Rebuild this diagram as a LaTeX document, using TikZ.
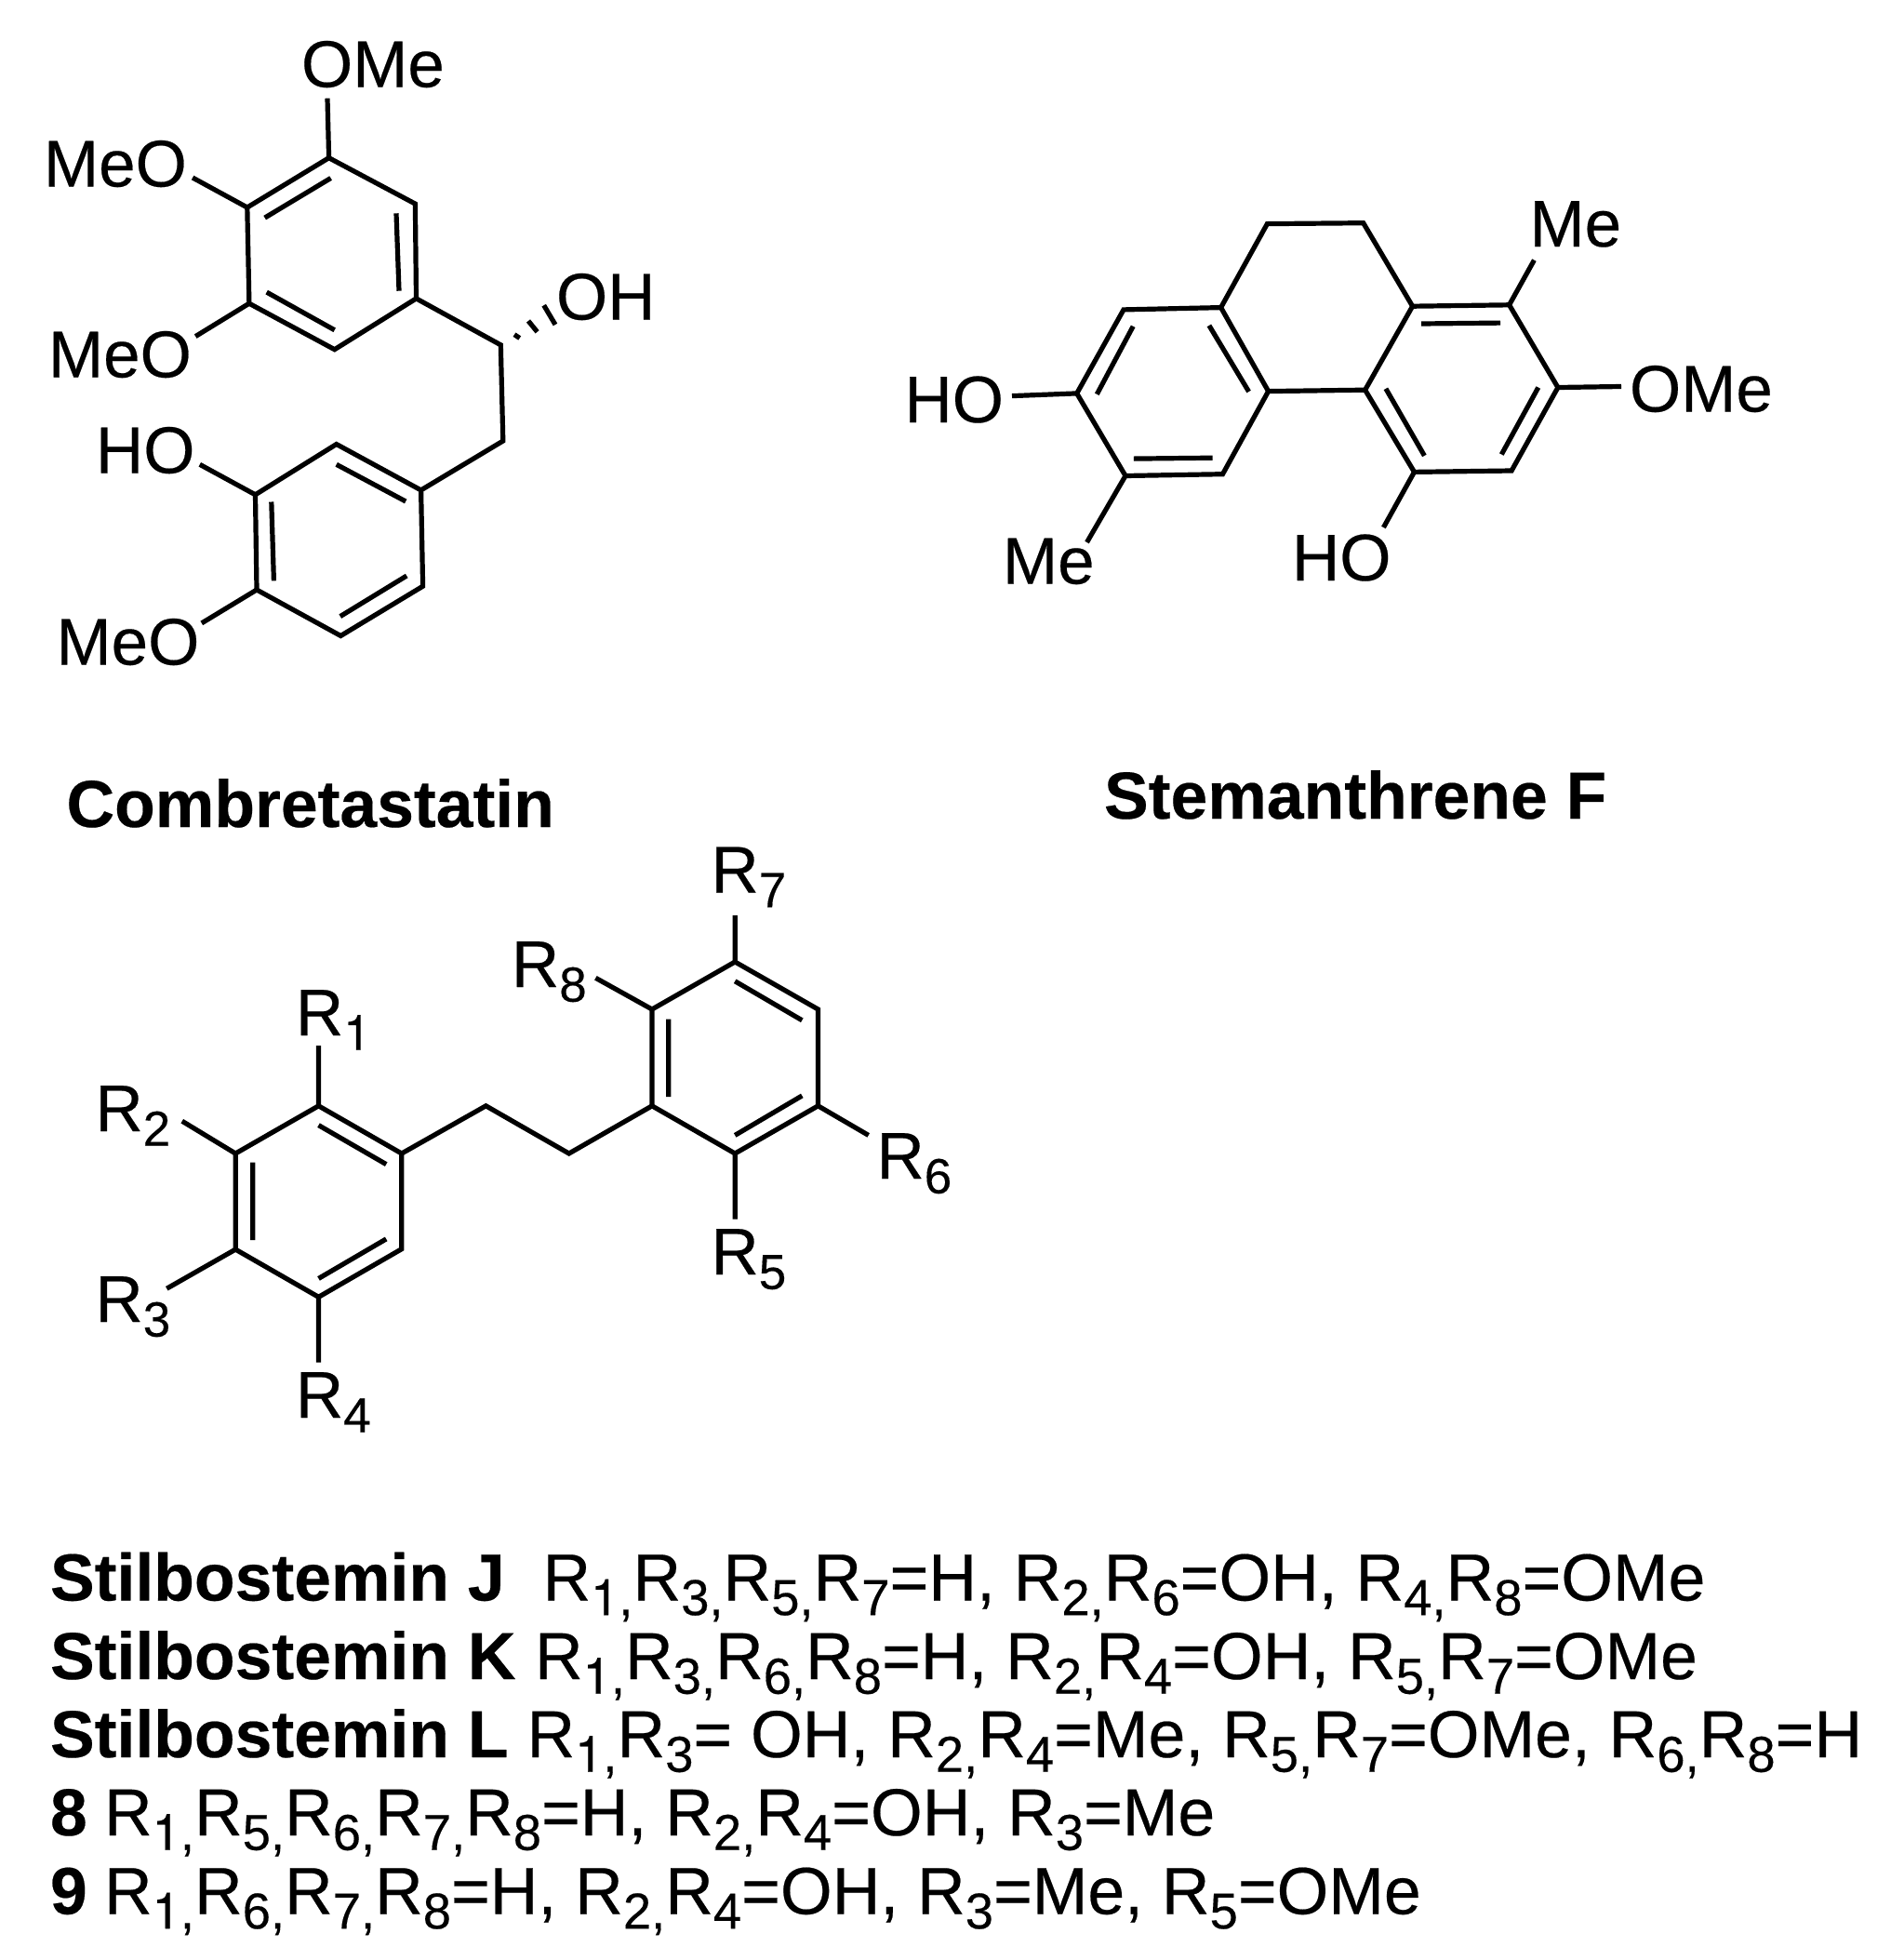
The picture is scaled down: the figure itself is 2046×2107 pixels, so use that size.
\documentclass[tikz,border=0pt]{standalone}
\usepackage{fontspec}
\setmainfont{Liberation Sans}[FakeBold=0.3]
\newfontfamily\heros{TeX Gyre Heros}[FakeBold=0.3]
\newcommand{\chemf}{\fontsize{71}{80}\selectfont}
\newcommand{\txtf}{\fontsize{71.55}{80}\selectfont}
\newcommand{\capf}{\fontsize{71.5}{80}\selectfont\bfseries}
\newcommand{\hone}{{\heros 1}}
\newcommand{\Rlab}[1]{R\raisebox{-15.7pt}{\fontsize{53}{55}\selectfont #1}}
\newcommand{\Rtxt}[1]{R\raisebox{-15.7pt}{\fontsize{54.4}{55}\selectfont #1}}
\tikzset{
  bond/.style={line width=5.2pt,line cap=butt,line join=miter},
  lab/.style={anchor=base west,inner sep=0pt,outer sep=0pt,font=\chemf},
  txtline/.style={anchor=base west,inner sep=0pt,outer sep=0pt,font=\txtf},
  capt/.style={anchor=base west,inner sep=0pt,outer sep=0pt,font=\capf},
}
\begin{document}
\begin{tikzpicture}[x=1pt,y=-1pt]
\useasboundingbox (0,0) rectangle (2046,2107);
% Combretastatin
\foreach \n/\x/\y in {a1/353.6/169.7,a2/446.4/219.1,a3/447.5/320.9,a4/359.7/375.7,a5/267.9/326.2,a6/265.8/223,
 ch/538.3/370.8,cc/540.8/474,b1/452.6/526.9,b2/361.7/477.5,b3/274.5/531.8,b4/276/634,b5/366.3/683.5,b6/454.6/630.2,
 eOMe/352/105.7,eMeOu/207.1/191,eMeOl/210.2/361.6,eHO/214.8/499.3,eMeOb/216.8/669.9,
 ia1/284.7/234.1,ia2/355.6/191.5,ia3/426/229.3,ia4/429/312.7,ia5/286.7/314.1,ia6/359.7/354.8,
 ib1/361.7/499.3,ib2/436.2/539,ib3/291.8/539.5,ib4/294.4/624.3,ib5/365.8/662.6,ib6/437.2/619,
 h1s/553/359.7,h1e/558.7/363.5,h2s/568/345,h2e/577.6/356.8,h3s/584.7/328.2,h3e/597/349,
% Stemanthrene
 sa/1362.4/240.6,sb/1465.7/239.7,sc/1518.6/329.2,sd/1622.6/327.8,se/1674.9/416.5,sf/1625.1/506,sg/1520.5/507.4,sh/1467.6/419.2,
 si/1363.6/420.6,sj/1312.6/330.6,sk/1208/332.9,sl/1157.7/422.9,sm/1210/511.5,sn/1314.5/509.7,
 eMeU/1649.4/279.6,eOMeS/1743/415.5,eHOS/1088/425.6,eMeL/1168.5/583,eHOL/1487.4/567,
 is1/1299.9/349.9,is2/1342.6/421,is3/1218.2/350.8,is4/1179.3/423.8,is5/1218.9/493.1,is6/1303.7/492.2,
 is7/1528.2/348,is8/1613/347.1,is9/1653.8/416.5,is10/1614.3/488.5,is11/1489.9/417.8,is12/1531.4/489.9,
% Stilbene
 c1/342.5/1188.8,c2/431.8/1240,c3/431.8/1342.7,c4/342.5/1394.3,c5/253.2/1343.1,c6/253.2/1240,
 l1/522.4/1188.8,l2/611.7/1240,
 d1/701/1188.8,d2/701/1085,d3/790.2/1034,d4/879.5/1085,d5/879.5/1188.8,d6/790.2/1240,
 eR1/342.5/1124,eR2/195.8/1205.2,eR3/179.3/1385.2,eR4/342.5/1464.6,eR5/790.2/1310.6,eR6/933.7/1220.4,eR7/790.2/984,eR8/640.4/1051.3,
 ic1/342.5/1209.6,ic2/415.2/1251.6,ic3/271.7/1249.5,ic4/271.7/1333.2,ic5/342.5/1374.4,ic6/415.2/1331.9,
 id1/718.8/1095.5,id2/718.8/1179.2,id3/790.2/1054.8,id4/862.3/1096.8,id5/790.2/1220.4,id6/862.3/1177.9}
 {\coordinate (\n) at (\x,\y);}
% bonds combretastatin
\draw[bond] (a1)--(a2)--(a3)--(a4)--(a5)--(a6)--cycle;
\draw[bond] (a1)--(eOMe) (a6)--(eMeOu) (a5)--(eMeOl) (a3)--(ch)--(cc)--(b1);
\draw[bond] (b1)--(b2)--(b3)--(b4)--(b5)--(b6)--cycle;
\draw[bond] (b3)--(eHO) (b4)--(eMeOb);
\draw[bond] (ia1)--(ia2) (ia3)--(ia4) (ia5)--(ia6) (ib1)--(ib2) (ib3)--(ib4) (ib5)--(ib6);
\draw[bond] (h1s)--(h1e) (h2s)--(h2e) (h3s)--(h3e);
% bonds stemanthrene
\draw[bond] (sj)--(sa)--(sb)--(sc)--(sh)--(si)--cycle;
\draw[bond] (sc)--(sd)--(se)--(sf)--(sg)--(sh);
\draw[bond] (sj)--(sk)--(sl)--(sm)--(sn)--(si);
\draw[bond] (sd)--(eMeU) (se)--(eOMeS) (sl)--(eHOS) (sm)--(eMeL) (sg)--(eHOL);
\draw[bond] (is1)--(is2) (is3)--(is4) (is5)--(is6) (is7)--(is8) (is9)--(is10) (is11)--(is12);
% bonds stilbene
\draw[bond] (c1)--(c2)--(c3)--(c4)--(c5)--(c6)--cycle;
\draw[bond] (c2)--(l1)--(l2)--(d1);
\draw[bond] (d1)--(d2)--(d3)--(d4)--(d5)--(d6)--cycle;
\draw[bond] (c1)--(eR1) (c6)--(eR2) (c5)--(eR3) (c4)--(eR4) (d6)--(eR5) (d5)--(eR6) (d3)--(eR7) (d2)--(eR8);
\draw[bond] (ic1)--(ic2) (ic3)--(ic4) (ic5)--(ic6) (id1)--(id2) (id3)--(id4) (id5)--(id6);
% labels
\node[lab] (tOMe) at (324,93.5) {OMe};
\node[lab] (tMeOu) at (47,200.5) {MeO};
\node[lab] (tMeOl) at (52,405.5) {MeO};
\node[lab] (tOH) at (598,343.5) {OH};
\node[lab] (tHO) at (103,508.5) {HO};
\node[lab] (tMeOb) at (60.5,714.5) {MeO};
\node[capt] (tComb) at (71.5,889) {Combretastatin};
\node[lab] (tHOS) at (972.5,454) {HO};
\node[lab] (tMeU) at (1644.5,265) {Me};
\node[lab] (tOMeS) at (1752,442.5) {OMe};
\node[lab] (tMeL) at (1078,627.5) {Me};
\node[lab] (tHOL) at (1389,624) {HO};
\node[capt] (tStem) at (1187,880) {Stemanthrene F};
\node[lab] (tR1) at (318,1113) {\Rlab{\hone}};
\node[lab] (tR2) at (102.5,1216) {\Rlab{2}};
\node[lab] (tR3) at (102.5,1421) {\Rlab{3}};
\node[lab] (tR4) at (318,1524) {\Rlab{4}};
\node[lab] (tR5) at (764.5,1370) {\Rlab{5}};
\node[lab] (tR6) at (942.5,1267) {\Rlab{6}};
\node[lab] (tR7) at (764.5,959.5) {\Rlab{7}};
\node[lab] (tR8) at (550,1061) {\Rlab{8}};
% text lines
\node[capt] (s1) at (54,1720.5) {Stilbostemin J};
\node[txtline] (r1) at (583.5,1720.5) {\Rtxt{\hone,}\Rtxt{3,}\Rtxt{5,}\Rtxt{7}=H, \Rtxt{2,}\Rtxt{6}=OH, \Rtxt{4,}\Rtxt{8}=OMe};
\node[capt] (s2) at (54,1805) {Stilbostemin K};
\node[txtline] (r2) at (575,1805) {\Rtxt{\hone,}\Rtxt{3,}\Rtxt{6,}\Rtxt{8}=H, \Rtxt{2,}\Rtxt{4}=OH, \Rtxt{5,}\Rtxt{7}=OMe};
\node[capt] (s3) at (54,1889) {Stilbostemin L};
\node[txtline] (r3) at (566.5,1889) {\Rtxt{\hone,}\Rtxt{3}= OH, \Rtxt{2,}\Rtxt{4}=Me, \Rtxt{5,}\Rtxt{7}=OMe, \Rtxt{6,}\Rtxt{8}=H};
\node[capt] (s4) at (54,1973) {8};
\node[txtline] (r4) at (112,1973) {\Rtxt{\hone,}\Rtxt{5,}\Rtxt{6,}\Rtxt{7,}\Rtxt{8}=H, \Rtxt{2,}\Rtxt{4}=OH, \Rtxt{3}=Me};
\node[capt] (s5) at (54,2057.5) {9};
\node[txtline] (r5) at (112,2057.5) {\Rtxt{\hone,}\Rtxt{6,}\Rtxt{7,}\Rtxt{8}=H, \Rtxt{2,}\Rtxt{4}=OH, \Rtxt{3}=Me, \Rtxt{5}=OMe};
\end{tikzpicture}
\end{document}
